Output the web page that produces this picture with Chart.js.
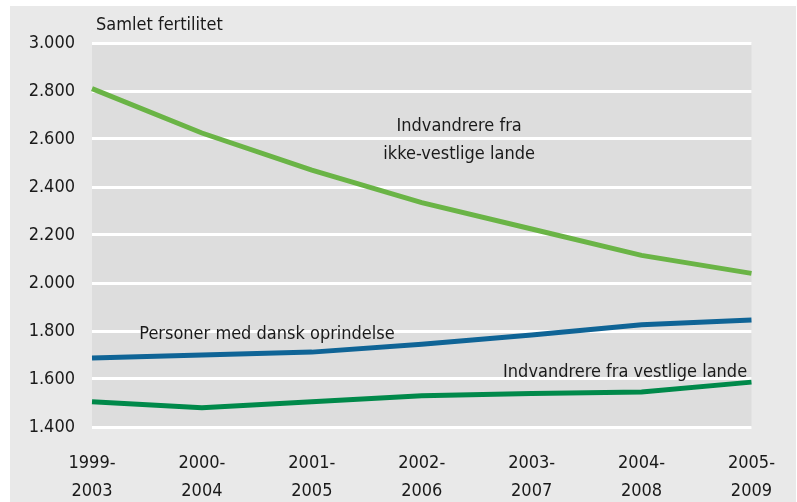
<!DOCTYPE html>
<html>
<head>
<meta charset="utf-8">
<script src="https://cdn.jsdelivr.net/npm/chart.js@4"></script>
<style>
  html, body { margin: 0; padding: 0; background: #ffffff; }
  #wrap { width: 797px; height: 502px; position: relative; }
</style>
</head>
<body>
<div id="wrap"><canvas id="c" width="797" height="502"></canvas></div>
<script>
// ---- data ----
const categories = [
  ["1999-", "2003"], ["2000-", "2004"], ["2001-", "2005"], ["2002-", "2006"],
  ["2003-", "2007"], ["2004-", "2008"], ["2005-", "2009"]
];
const ikkeVestlige = [2.81, 2.625, 2.47, 2.335, 2.225, 2.115, 2.04];
const danskOprindelse = [1.688, 1.700, 1.712, 1.745, 1.783, 1.826, 1.846];
const vestlige = [1.505, 1.480, 1.505, 1.530, 1.540, 1.546, 1.587];
const yMin = 1.4, yMax = 3.0, yStep = 0.2;
const axisTitle = "Samlet fertilitet";
const labels = [
  { text: "Indvandrere fra", x: 3.34, y: 2.653, align: "center" },
  { text: "ikke-vestlige lande", x: 3.34, y: 2.537, align: "center" },
  { text: "Personer med dansk oprindelse", x: 0.43, y: 1.788, align: "left" },
  { text: "Indvandrere fra vestlige lande", x: 3.74, y: 1.627, align: "left" }
];

const FONT = "'Liberation Sans Narrow', 'DejaVu Sans Condensed', 'Roboto Condensed', sans-serif";

const bgPlugin = {
  id: 'bg',
  beforeDraw(chart) {
    const ctx = chart.ctx, a = chart.chartArea;
    ctx.save();
    ctx.fillStyle = '#e9e9e9';
    ctx.fillRect(10, 6, 786, 496);
    ctx.fillStyle = '#dddddd';
    ctx.fillRect(a.left, a.top, a.right - a.left, a.bottom - a.top);
    ctx.restore();
  }
};

const textPlugin = {
  id: 'texts',
  afterDatasetsDraw(chart) {
    const ctx = chart.ctx, xs = chart.scales.x, ys = chart.scales.y;
    ctx.save();
    ctx.fillStyle = '#1a1a1a';
    ctx.font = "18px " + FONT;
    ctx.textBaseline = 'middle';
    ctx.textAlign = 'left';
    ctx.fillText(axisTitle, xs.getPixelForValue(0) + 4, ys.top - 18);
    labels.forEach(l => {
      ctx.textAlign = l.align;
      ctx.fillText(l.text, xs.getPixelForValue(l.x), ys.getPixelForValue(l.y));
    });
    ctx.restore();
  }
};

const ticks = [];
for (let v = yMin; v <= yMax + 1e-9; v += yStep) ticks.push(Math.round(v * 10) / 10);

new Chart(document.getElementById('c'), {
  type: 'line',
  data: {
    labels: categories,
    datasets: [
      { data: ikkeVestlige, borderColor: '#6ab446', borderWidth: 5 },
      { data: danskOprindelse, borderColor: '#0f6496', borderWidth: 5 },
      { data: vestlige, borderColor: '#00894a', borderWidth: 5 }
    ]
  },
  options: {
    responsive: false,
    animation: false,
    devicePixelRatio: 1,
    layout: { padding: { left: 0, right: 45, top: 43, bottom: 0 } },
    elements: { point: { radius: 0 }, line: { tension: 0, borderCapStyle: 'butt' } },
    plugins: { legend: { display: false }, tooltip: { enabled: false } },
    scales: {
      x: {
        offset: false,
        grid: { display: false, drawTicks: false },
        border: { display: false },
        ticks: {
          color: '#1a1a1a',
          font: { family: FONT, size: 18, lineHeight: 1.55 },
          padding: 22,
          maxRotation: 0,
          autoSkip: false
        },
        afterFit(s) { s.height = 75; }
      },
      y: {
        min: yMin, max: yMax,
        afterBuildTicks(s) { s.ticks = ticks.map(v => ({ value: v })); },
        grid: { color: '#ffffff', lineWidth: 3, drawTicks: false },
        border: { display: false },
        ticks: {
          color: '#1a1a1a',
          font: { family: FONT, size: 18 },
          padding: 17,
          callback: v => v.toFixed(3).replace(/\.(\d)(\d\d)$/, (m, a, b) => '.' + a + b)
        },
        afterFit(s) { s.width = 92; }
      }
    }
  },
  plugins: [bgPlugin, textPlugin]
});
</script>
</body>
</html>
